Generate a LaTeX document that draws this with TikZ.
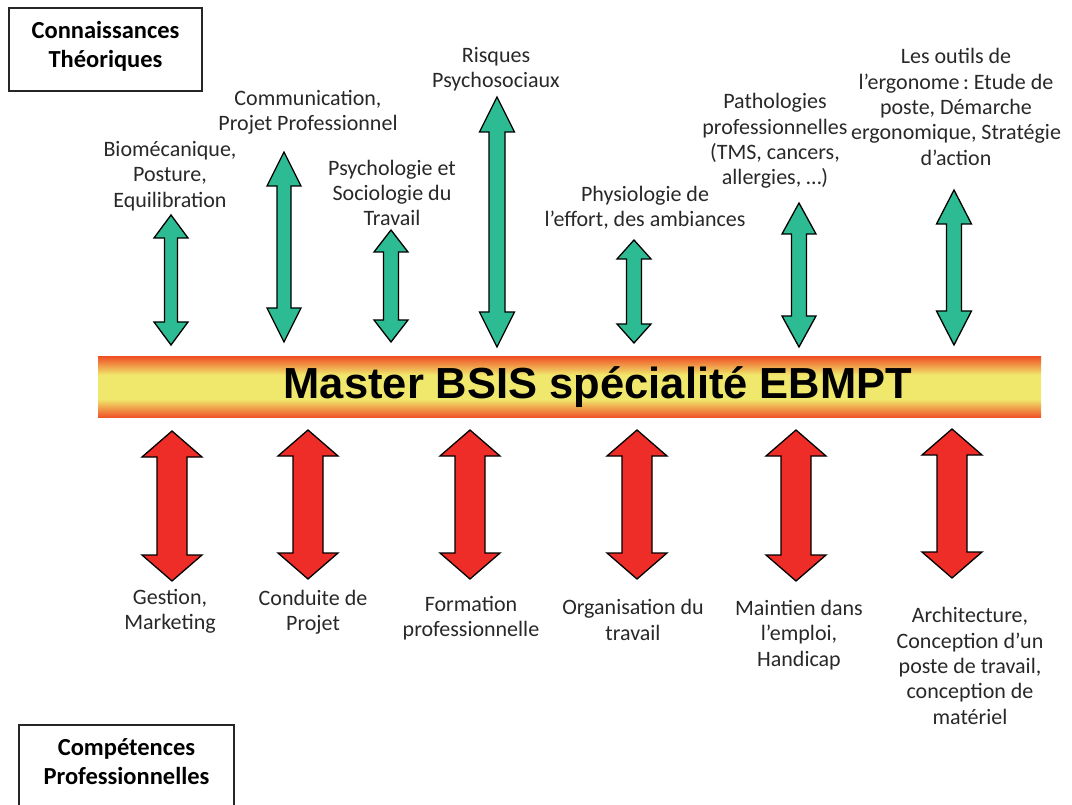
\documentclass[tikz,border=0pt]{standalone}
\usepackage{fontspec}
\setmainfont{Carlito}
\newfontfamily\titlefont{Liberation Sans}
\frenchspacing
\definecolor{txt}{RGB}{40,40,40}
\definecolor{grn}{RGB}{45,187,148}
\definecolor{rd}{RGB}{238,45,40}
\definecolor{bo}{RGB}{240,85,40}
\definecolor{by}{RGB}{240,232,108}
\pgfdeclareverticalshading{bannershade}{100bp}{color(0bp)=(bo); color(25bp)=(bo); color(40bp)=(by); color(60bp)=(by); color(75bp)=(bo); color(100bp)=(bo)}
\newcommand{\myudarrow}[7]{% x, top, bottom, head half, shaft half, head length, colour
  \draw[arrowline, fill=#7] (#1,#2) -- (#1+#4,#2+#6) -- (#1+#5,#2+#6) -- (#1+#5,#3-#6) -- (#1+#4,#3-#6) -- (#1,#3) -- (#1-#4,#3-#6) -- (#1-#5,#3-#6) -- (#1-#5,#2+#6) -- (#1-#4,#2+#6) -- cycle;}
\begin{document}
\begin{tikzpicture}[x=1pt,y=-1pt,
  lbl/.style={align=center, text=txt, font=\frenchspacing\fontsize{22}{25.3}\selectfont, inner sep=0pt},
  boxtxt/.style={align=center, text=black, font=\bfseries\fontsize{24.5}{29}\selectfont, inner sep=0pt},
  boxline/.style={draw=black!85, line width=1.3pt},
  arrowline/.style={draw=black, line width=1.3pt, line join=miter}]
\useasboundingbox (0,0) rectangle (1072,805);
% boxes
\draw[boxline] (9,8) rectangle (202,91);
\node[boxtxt] (ct) at (105.5,46) {Connaissances\\Théoriques};
\draw[boxline] (19,725) rectangle (234,815);
\node[boxtxt] (cp) at (126.5,762) {Compétences\\Professionnelles};
% banner
\shade[shading=bannershade] (98,357) rectangle (1041,417);
\node[font=\titlefont\bfseries\fontsize{43.5}{50}\selectfont, text=black, inner sep=0pt] (title) at (598,387) {Master BSIS spécialité EBMPT};
% green arrows
\myudarrow{171}{215}{345}{17}{6.5}{23}{grn}
\myudarrow{284}{152}{342}{17}{7}{34}{grn}
\myudarrow{391}{230}{342}{17}{7.5}{22}{grn}
\myudarrow{497}{97}{347}{17.5}{8}{35}{grn}
\myudarrow{634}{240}{343}{17}{7.5}{19}{grn}
\myudarrow{799}{203}{347}{17}{7.5}{31}{grn}
\myudarrow{954}{190}{345}{17.5}{7.5}{34}{grn}
% red arrows
\myudarrow{172}{431}{581}{30}{15}{26}{rd}
\myudarrow{308}{430}{579}{30}{15}{26}{rd}
\myudarrow{470}{430}{579}{30}{15}{26}{rd}
\myudarrow{637}{430}{579}{30}{15}{26}{rd}
\myudarrow{796}{430}{581}{30}{15}{26}{rd}
\myudarrow{952}{429}{578}{30}{15}{26}{rd}
% top labels
\node[lbl] (t1) at (170,176) {Biomécanique,\\Posture,\\Equilibration};
\node[lbl] (t2) at (308,112) {Communication,\\Projet Professionnel};
\node[lbl] (t3) at (392,193) {Psychologie et\\Sociologie du\\Travail};
\node[lbl] (t4) at (496,69) {Risques\\Psychosociaux};
\node[lbl] (t5) at (645,208) {Physiologie de\\l’effort, des ambiances};
\node[lbl] (t6) at (775,141) {Pathologies\\professionnelles\\(TMS, cancers,\\allergies, …)};
\node[lbl] (t7) at (956,107) {Les outils de\\l’ergonome\,: Etude de\\poste, Démarche\\ergonomique, Stratégie\\d’action};
% bottom labels
\node[lbl] (b1) at (170,611) {Gestion,\\Marketing};
\node[lbl] (b2) at (313,612) {Conduite de\\Projet};
\node[lbl] (b3) at (471,618) {Formation\\professionnelle};
\node[lbl] (b4) at (633,620) {Organisation du\\travail};
\node[lbl] (b5) at (799,635) {Maintien dans\\l’emploi,\\Handicap};
\node[lbl] (b6) at (970,666) {Architecture,\\Conception d’un\\poste de travail,\\conception de\\matériel};
\end{tikzpicture}
\end{document}
